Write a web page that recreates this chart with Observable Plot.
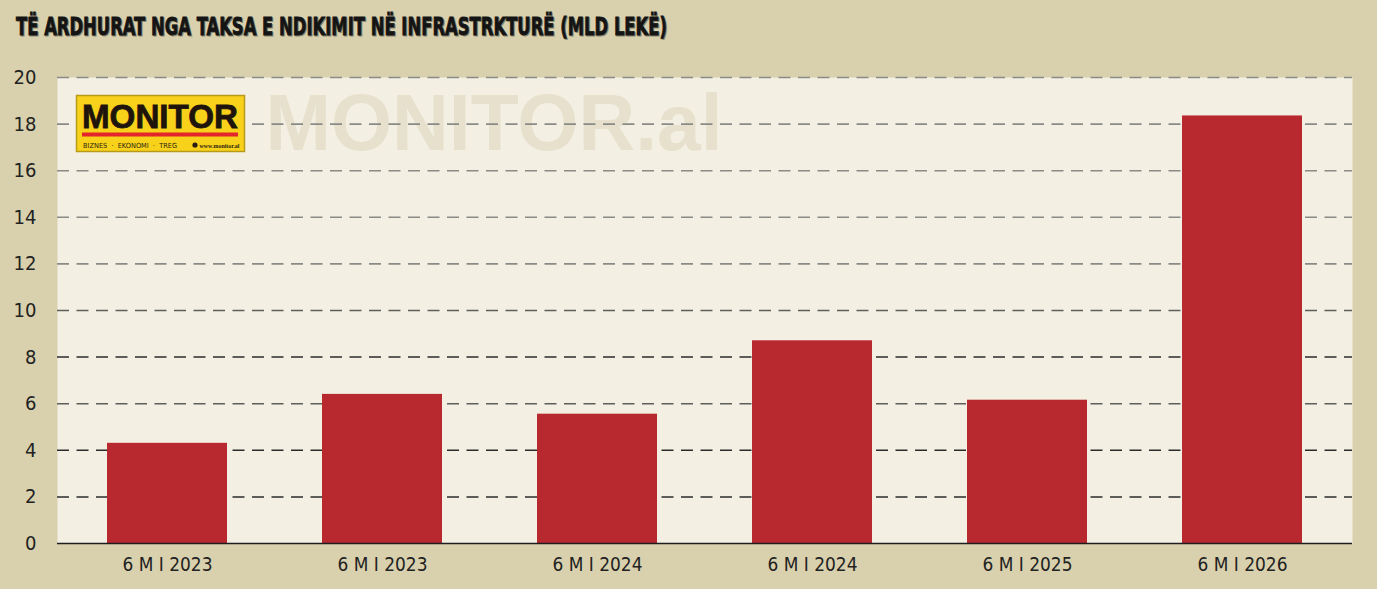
<!DOCTYPE html>
<html>
<head>
<meta charset="utf-8">
<script src="https://cdn.jsdelivr.net/npm/d3@7"></script>
<script src="https://cdn.jsdelivr.net/npm/@observablehq/plot@0.6"></script>
<style>
  html, body { margin: 0; padding: 0; background: #d9d1ad; }
  #wrap { position: relative; width: 1377px; height: 589px; overflow: hidden; }
  #title { position: absolute; left: 0; top: 0; }
  #chart { position: absolute; left: 0; top: 0; }
</style>
</head>
<body>
<div id="wrap">
  <div id="chart"></div>
  <svg id="title" width="1377" height="50" xmlns="http://www.w3.org/2000/svg"></svg>
</div>
<script>
const titleText = "TË ARDHURAT NGA TAKSA E NDIKIMIT NË INFRASTRKTURË (MLD LEKË)";
const categories = ["6 M I 2023", "6 M I 2023", "6 M I 2024", "6 M I 2024", "6 M I 2025", "6 M I 2026"];
const values = [4.3, 6.4, 5.55, 8.7, 6.15, 18.35];
const yTicks = [0, 2, 4, 6, 8, 10, 12, 14, 16, 18, 20];
const watermarkText = "MONITOR.al";
const logoText = "MONITOR";
const logoTagline = "BIZNES  ·  EKONOMI  ·  TREG";
const logoUrl = "www.monitor.al";

const FONT = "'DejaVu Sans Condensed', 'Liberation Sans Narrow', sans-serif";

const data = categories.map((label, i) => ({ i, label, value: values[i] }));

const chart = Plot.plot({
  width: 1377,
  height: 589,
  marginTop: 77,
  marginBottom: 46,
  marginLeft: 57,
  marginRight: 25,
  style: { background: "transparent", fontFamily: FONT, fontSize: "20px", color: "#222" },
  x: {
    type: "band",
    domain: d3.range(categories.length),
    paddingInner: 0.444,
    paddingOuter: 0.222,
    tickFormat: i => categories[i],
    label: null,
    tickSize: 0,
    tickPadding: 13
  },
  y: {
    domain: [0, 20],
    ticks: yTicks,
    label: null,
    tickSize: 0,
    tickPadding: 21
  },
  marks: [
    Plot.frame({ fill: "#f3f0e3", stroke: null }),
    Plot.text([watermarkText], {
      frameAnchor: "top-left", dx: 208, dy: 16, lineAnchor: "top", textAnchor: "start",
      fontSize: 80, fontWeight: "bold", fill: "#e6e0cd",
      fontFamily: "'Liberation Sans', Arial, sans-serif"
    }),
    Plot.ruleY(yTicks.filter(d => d >= 12), { stroke: "#8a8a86", strokeWidth: 1.6, strokeDasharray: "12,7.5" }),
    Plot.ruleY(yTicks.filter(d => d === 10 || d === 6), { stroke: "#5e5e5a", strokeWidth: 1.6, strokeDasharray: "12,7.5" }),
    Plot.ruleY(yTicks.filter(d => d > 0 && d < 10 && d !== 6), { stroke: "#2b2b2b", strokeWidth: 1.5, strokeDasharray: "12,7.5" }),
    Plot.barY(data, { x: "i", y: "value", fill: "#b8282f" }),
    Plot.ruleY([0], { stroke: "#1e1e1e", strokeWidth: 1.6 })
  ]
});
document.getElementById("chart").appendChild(chart);

const svg = d3.select(chart);

// watermark text length fit
svg.selectAll("text").filter(function () { return this.textContent === watermarkText; })
  .attr("textLength", 457).attr("lengthAdjust", "spacingAndGlyphs");

// narrow x tick labels to match reference width
svg.selectAll("[aria-label='x-axis tick label'] text")
  .attr("textLength", 90).attr("lengthAdjust", "spacingAndGlyphs");

// Logo (decoration) on top of grid
const logo = svg.append("g").attr("text-anchor", "start");
logo.append("rect").attr("x", 76.5).attr("y", 95.5).attr("width", 168).attr("height", 56)
  .attr("fill", "#f8d11b").attr("stroke", "#b89a18").attr("stroke-width", 1.5);
logo.append("text").attr("x", 82).attr("y", 127.5).text(logoText)
  .attr("font-family", "'Liberation Sans', Arial, sans-serif").attr("font-weight", "bold")
  .attr("font-size", 33).attr("fill", "#1e140c").attr("stroke", "#1e140c").attr("stroke-width", 0.8)
  .attr("textLength", 156).attr("lengthAdjust", "spacingAndGlyphs");
logo.append("rect").attr("x", 82).attr("y", 132.5).attr("width", 156).attr("height", 4).attr("fill", "#e3262b");
logo.append("text").attr("x", 83).attr("y", 147.5).text(logoTagline)
  .attr("font-family", FONT).attr("font-size", 7).attr("fill", "#2a1c10")
  .attr("textLength", 94).attr("lengthAdjust", "spacingAndGlyphs");
logo.append("circle").attr("cx", 195).attr("cy", 145).attr("r", 2.6).attr("fill", "#2a1c10");
logo.append("text").attr("x", 199.5).attr("y", 147.5).text(logoUrl)
  .attr("font-family", "'Liberation Serif', serif").attr("font-weight", "bold").attr("font-size", 7)
  .attr("fill", "#2a1c10").attr("textLength", 40).attr("lengthAdjust", "spacingAndGlyphs");

// Title
const t = d3.select("#title");
t.append("text").attr("x", 17).attr("y", 36).text(titleText)
  .attr("font-family", FONT).attr("font-weight", "bold").attr("font-size", 25)
  .attr("fill", "#8c8770").attr("stroke", "#8c8770").attr("stroke-width", 0.8)
  .attr("textLength", 651).attr("lengthAdjust", "spacingAndGlyphs");
t.append("text").attr("x", 16).attr("y", 35).text(titleText)
  .attr("font-family", FONT).attr("font-weight", "bold").attr("font-size", 25)
  .attr("fill", "#141414").attr("stroke", "#141414").attr("stroke-width", 0.8)
  .attr("textLength", 651).attr("lengthAdjust", "spacingAndGlyphs");
</script>
</body>
</html>
